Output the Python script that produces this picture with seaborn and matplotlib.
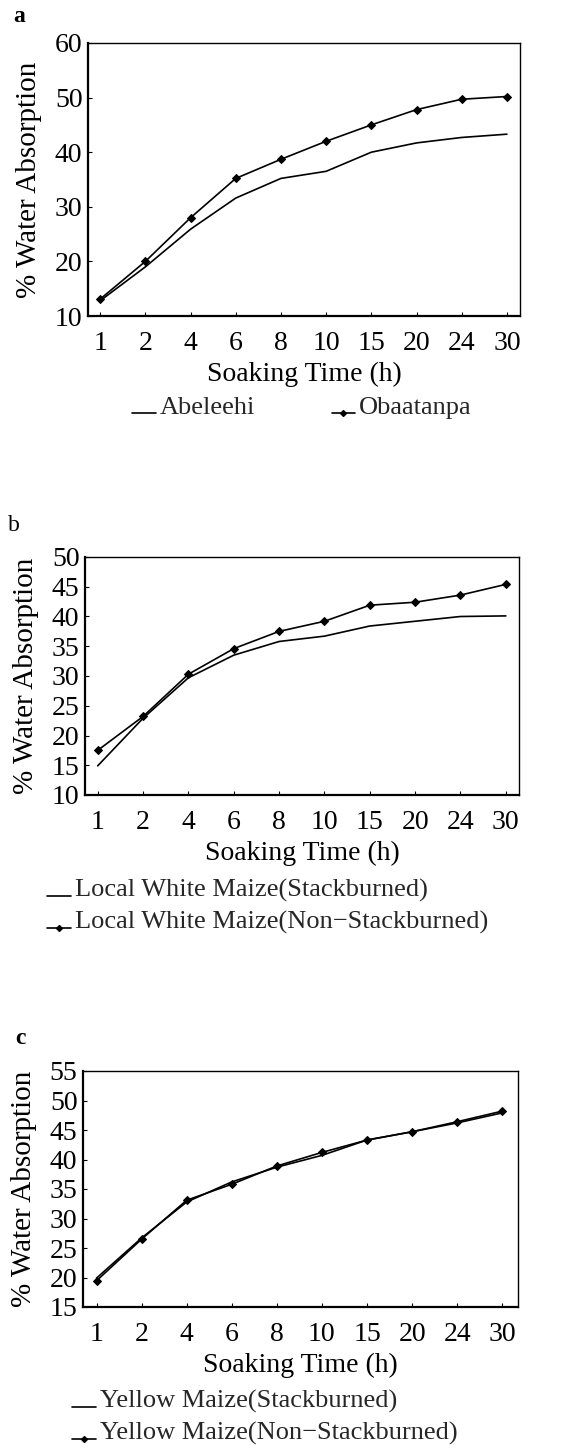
import numpy as np
import pandas as pd
import matplotlib
matplotlib.use("Agg")
import matplotlib.pyplot as plt
import seaborn as sns
from matplotlib.lines import Line2D
from matplotlib.legend_handler import HandlerLine2D

# Soaking times (h), plotted as evenly spaced categories
hours = ["1", "2", "4", "6", "8", "10", "15", "20", "24", "30"]

# (a) Abeleehi vs Obaatanpa
abeleehi = [12.8, 19.0, 25.9, 31.6, 35.2, 36.5, 40.0, 41.7, 42.7, 43.3]
obaatanpa = [13.1, 20.0, 28.0, 35.2, 38.7, 42.0, 45.0, 47.8, 49.7, 50.2]

# (b) Local white maize
white_stack = [14.9, 22.9, 29.7, 33.5, 35.8, 36.7, 38.4, 39.2, 40.0, 40.1]
white_nonstack = [17.5, 23.2, 30.3, 34.6, 37.5, 39.2, 41.9, 42.4, 43.6, 45.4]

# (c) Yellow maize
yellow_stack = [19.9, 26.7, 32.8, 36.2, 38.7, 40.7, 43.3, 44.7, 46.2, 47.9]
yellow_nonstack = [19.45, 26.5, 33.1, 35.8, 38.9, 41.2, 43.3, 44.7, 46.4, 48.2]

sns.set_theme(style="ticks")
plt.rcParams["font.family"] = ["Liberation Serif", "DejaVu Serif"]

fig = plt.figure(figsize=(5.65, 14.49), dpi=100)
W, H = 565.0, 1449.0


def box(left, right, top, bottom):
    return [left / W, 1 - bottom / H, (right - left) / W, (bottom - top) / H]


panels = [
    dict(rect=box(88, 520, 43, 316), ylim=(10, 60), yticks=np.arange(10, 61, 10),
         xlim=(-0.27, 9.29), series=[("Abeleehi", abeleehi), ("Obaatanpa", obaatanpa)],
         tag="a", tag_xy=(19, 16), tag_bold=True),
    dict(rect=box(85, 519, 557, 795), ylim=(10, 50), yticks=np.arange(10, 51, 5),
         xlim=(-0.28, 9.29),
         series=[("Local White Maize(Stackburned)", white_stack),
                 ("Local White Maize(Non\u2212Stackburned)", white_nonstack)],
         tag="b", tag_xy=(14, 525), tag_bold=False),
    dict(rect=box(83, 518, 1071, 1307), ylim=(15, 55), yticks=np.arange(15, 56, 5),
         xlim=(-0.30, 9.35),
         series=[("Yellow Maize(Stackburned)", yellow_stack),
                 ("Yellow Maize(Non\u2212Stackburned)", yellow_nonstack)],
         tag="c", tag_xy=(20, 1038), tag_bold=True),
]

for p in panels:
    ax = fig.add_axes(p["rect"])
    (name0, vals0), (name1, vals1) = p["series"]
    df = pd.DataFrame({
        "pos": list(range(len(hours))) * 2,
        "value": vals0 + vals1,
        "variety": [name0] * len(hours) + [name1] * len(hours),
    })
    sns.lineplot(data=df[df.variety == name0], x="pos", y="value", ax=ax,
                 color="black", linewidth=1.2, legend=False)
    sns.lineplot(data=df[df.variety == name1], x="pos", y="value", ax=ax,
                 color="black", linewidth=1.2, marker="D", markersize=4.5,
                 markeredgecolor="black", markerfacecolor="black", legend=False)
    ax.set_xlim(*p["xlim"])
    ax.set_ylim(*p["ylim"])
    ax.set_xticks(range(len(hours)))
    ax.set_xticklabels(hours)
    ax.set_yticks(p["yticks"])
    ax.tick_params(direction="in", length=3, width=0.8, colors="black",
                   labelsize=20)
    ax.tick_params(axis="x", pad=11)
    ax.tick_params(axis="y", pad=4)
    for s in ax.spines.values():
        s.set_color("black")
        s.set_linewidth(1.0)
    ax.spines["left"].set_linewidth(1.6)
    ax.spines["bottom"].set_linewidth(1.6)
    ax.set_xlabel("Soaking Time (h)", fontsize=20, labelpad=4, color="black")
    ax.set_ylabel("% Water Absorption", fontsize=21, labelpad=9, color="black")
    fig.text(p["tag_xy"][0] / W, 1 - p["tag_xy"][1] / H, p["tag"], fontsize=17,
             fontweight="bold" if p["tag_bold"] else "normal",
             ha="center", va="center", color="black")


class BaselineHandler(HandlerLine2D):
    """Legend key drawn along the text baseline, like an underscore."""

    def create_artists(self, legend, orig_handle, xdescent, ydescent, width,
                       height, fontsize, trans):
        artists = super().create_artists(legend, orig_handle, xdescent, ydescent,
                                         width, height, fontsize, trans)
        for a in artists:
            y = np.asarray(a.get_ydata(), dtype=float)
            a.set_ydata(np.full_like(y, 0.05 * height))
        return artists


plain = Line2D([], [], color="black", linewidth=1.2)
marked = Line2D([], [], color="black", linewidth=1.2, marker="D", markersize=3)
hmap = {plain: BaselineHandler(), marked: BaselineHandler()}

leg_kw = dict(frameon=False, handlelength=0.9, handletextpad=0.15,
              borderpad=0, borderaxespad=0, handler_map=hmap)

fig.legend([plain, marked], ["Abeleehi", "Obaatanpa"], ncol=2, columnspacing=2.9,
           loc="center left", bbox_to_anchor=(132 / W, 1 - 407 / H),
           fontsize=19, **leg_kw)
fig.legend([plain, marked], [panels[1]["series"][0][0], panels[1]["series"][1][0]],
           loc="center left", bbox_to_anchor=(47 / W, 1 - 906 / H),
           fontsize=19, labelspacing=0.3, **leg_kw)
fig.legend([plain, marked], [panels[2]["series"][0][0], panels[2]["series"][1][0]],
           loc="center left", bbox_to_anchor=(72 / W, 1 - 1417 / H),
           fontsize=19, labelspacing=0.3, **leg_kw)

fig.savefig("out.png", dpi=100, facecolor="white")
